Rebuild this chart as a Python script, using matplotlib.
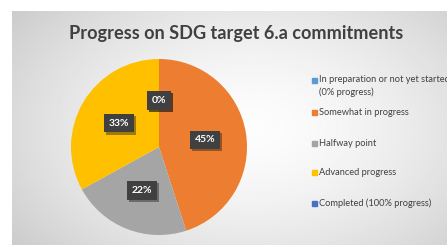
import numpy as np
import matplotlib
matplotlib.use("Agg")
import matplotlib.pyplot as plt
import matplotlib.patheffects as pe

categories = ["In preparation or not yet started\n(0% progress)", "Somewhat in progress",
              "Halfway point", "Advanced progress", "Completed (100% progress)"]
shares = [0, 45, 22, 33, 0]
colors = ["#5B9BD5", "#ED7D31", "#A5A5A5", "#FFC000", "#4472C4"]
title = "Progress on SDG target 6.a commitments"

W, H = 447, 245
fig = plt.figure(figsize=(W / 100, H / 100), dpi=100)
fig.patch.set_facecolor("white")

# background panel with a soft radial gradient
bg = fig.add_axes([0, 0, 1, 1])
bg.set_xlim(0, W); bg.set_ylim(H, 0); bg.axis("off")
yy, xx = np.mgrid[0:1:200j, 0:1:300j]
d = np.sqrt(((xx - 0.55) / 0.75) ** 2 + ((yy - 0.5) / 0.9) ** 2)
shade = np.clip(0.99 - 0.22 * d ** 1.6, 0, 1)
bg.imshow(shade, cmap="gray", vmin=0, vmax=1, extent=(12, W, H, 12), aspect="auto")

bg.text(236, 33, title, ha="center", va="center", fontsize=13.1, fontweight="bold",
        color="#404040", family="Lato")

# pie
cx, cy, r = 159, 147, 88
pax = fig.add_axes([(cx - r) / W, (H - cy - r) / H, 2 * r / W, 2 * r / H])
wedges, _ = pax.pie(shares, colors=colors, startangle=90, counterclock=False,
                    wedgeprops=dict(linewidth=0))
pax.set_xlim(-1, 1); pax.set_ylim(-1, 1); pax.set_aspect("equal")
for w, v in zip(wedges, shares):
    ang = np.deg2rad((w.theta1 + w.theta2) / 2)
    t = pax.text(0.53 * np.cos(ang), 0.53 * np.sin(ang), f"{v}%", ha="center", va="center",
                 fontsize=7.5, fontweight="bold", color="white", family="Lato",
                 bbox=dict(boxstyle="square,pad=0.45", fc="#404040", ec="none"))
    t.get_bbox_patch().set_path_effects([pe.SimplePatchShadow(offset=(1.5, -1.5), alpha=0.4), pe.Normal()])

# legend
ys = [86, 112, 143, 172, 203]
for lab, c, y in zip(categories, colors, ys):
    ty = y - 6 if "\n" in lab else y
    bg.add_patch(plt.Rectangle((312, ty - 2.5), 5, 5, color=c))
    bg.text(319, y, lab, ha="left", va="center", fontsize=6.7, color="#404040",
            family="Lato", linespacing=1.35)

fig.savefig("out.png", dpi=100)
